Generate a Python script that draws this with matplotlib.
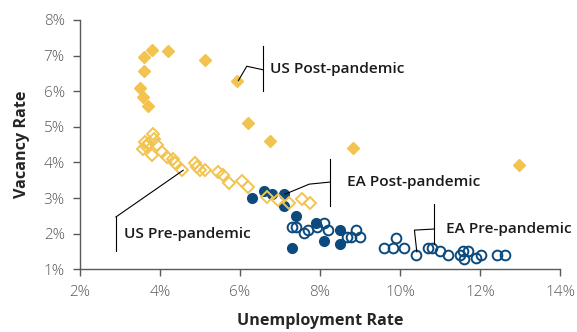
import matplotlib
matplotlib.use("Agg")
import matplotlib.pyplot as plt
from matplotlib.ticker import FuncFormatter

plt.rcParams["font.family"] = ["Open Sans", "DejaVu Sans"]

YELLOW = "#F2C44F"
BLUE = "#0C4A7E"

# unemployment rate (%), vacancy rate (%)
us_post_u = [3.81, 4.19, 5.13, 5.93, 3.61, 3.59, 3.49, 3.58, 3.70, 6.21, 6.76, 8.83, 12.97]
us_post_v = [7.17, 7.12, 6.88, 6.29, 6.95, 6.56, 6.09, 5.83, 5.58, 5.12, 4.59, 4.40, 3.92]

us_pre_u = [3.83, 3.86, 3.63, 3.71, 3.58, 3.65, 3.92, 3.79, 4.04, 4.17, 4.33, 4.38, 4.56,
            4.88, 4.92, 5.00, 5.13, 5.46, 5.58, 5.73, 6.05, 6.21, 6.67, 6.96, 7.23, 7.54, 7.75]
us_pre_v = [4.79, 4.67, 4.57, 4.53, 4.39, 4.45, 4.48, 4.22, 4.29, 4.14, 4.11, 3.99, 3.78,
            3.97, 3.87, 3.80, 3.78, 3.73, 3.66, 3.43, 3.49, 3.30, 3.03, 2.94, 2.85, 2.96, 2.85]

ea_post_u = [6.31, 6.60, 6.79, 7.11, 7.10, 7.41, 7.90, 8.10, 7.31, 8.50, 8.51]
ea_post_v = [2.99, 3.20, 3.10, 3.10, 2.79, 2.49, 2.29, 1.80, 1.59, 2.10, 1.70]

ea_pre_u = [7.31, 7.40, 7.60, 7.71, 7.92, 8.11, 8.21, 8.67, 8.78, 8.89, 9.01, 9.60, 9.82, 9.91,
            10.11, 10.41, 10.70, 10.81, 11.01, 11.21, 11.49, 11.58, 11.71, 11.60, 11.90, 12.02,
            12.42, 12.63]
ea_pre_v = [2.19, 2.19, 2.02, 2.10, 2.20, 2.30, 2.09, 1.90, 1.90, 2.10, 1.90, 1.60, 1.60, 1.89,
            1.60, 1.40, 1.61, 1.61, 1.50, 1.40, 1.40, 1.50, 1.50, 1.28, 1.31, 1.40, 1.40, 1.40]

x_ticks = [2, 4, 6, 8, 10, 12, 14]
y_ticks = [1, 2, 3, 4, 5, 6, 7, 8]

fig = plt.figure(figsize=(5.77, 3.32), dpi=100)
ax = fig.add_axes([0.1386, 0.1889, 0.832, 0.751])

ax.plot(ea_pre_u, ea_pre_v, "o", ms=7, mfc="none", mec=BLUE, mew=1.4, ls="none")
ax.plot(ea_post_u, ea_post_v, "o", ms=7, mfc=BLUE, mec=BLUE, ls="none")
ax.plot(us_pre_u, us_pre_v, "D", ms=6.3, mfc="none", mec=YELLOW, mew=1.4, ls="none")
ax.plot(us_post_u, us_post_v, "D", ms=6.3, mfc=YELLOW, mec=YELLOW, ls="none")

# annotation brackets and leaders
lk = dict(color="black", lw=0.8)
ax.plot([6.58, 6.58], [6.00, 7.26], **lk)
ax.plot([6.58, 6.17, 5.96], [6.60, 6.70, 6.30], **lk)
ax.plot([2.90, 2.90], [1.52, 2.47], **lk)
ax.plot([2.90, 4.58], [2.47, 3.78], **lk)
ax.plot([8.26, 8.26], [2.77, 4.11], **lk)
ax.plot([8.26, 7.73, 7.13], [3.45, 3.39, 3.11], **lk)
ax.plot([10.85, 10.85], [1.70, 2.82], **lk)
ax.plot([10.85, 10.36, 10.42], [2.13, 2.10, 1.49], **lk)

tk = dict(fontsize=11.1, fontweight="semibold", color="#1a1a1a", va="center", ha="left")
ax.text(6.75, 6.63, "US Post-pandemic", **tk)
ax.text(3.11, 1.98, "US Pre-pandemic", **tk)
ax.text(8.68, 3.44, "EA Post-pandemic", **tk)
ax.text(11.15, 2.12, "EA Pre-pandemic", **tk)

ax.set_xlim(2, 14)
ax.set_ylim(1, 8)
ax.set_xticks(x_ticks)
ax.set_yticks(y_ticks)
pct = FuncFormatter(lambda v, p: f"{v:.0f}%")
ax.xaxis.set_major_formatter(pct)
ax.yaxis.set_major_formatter(pct)

for s in ("top", "right"):
    ax.spines[s].set_visible(False)
for s in ("left", "bottom"):
    ax.spines[s].set_color("#595959")
    ax.spines[s].set_linewidth(1.0)
ax.tick_params(direction="out", length=5, width=1.0, color="#595959",
               labelcolor="#595959", labelsize=11, pad=6)
for lab in ax.get_xticklabels() + ax.get_yticklabels():
    lab.set_fontweight("light")
for ln in ax.lines:
    ln.set_clip_on(False)

ax.set_xlabel("Unemployment Rate", fontsize=11.6, fontweight="bold", color="#262626", labelpad=10)
ax.set_ylabel("Vacancy Rate", fontsize=11.6, fontweight="bold", color="#262626", labelpad=10)

fig.savefig("out.png", dpi=100)
